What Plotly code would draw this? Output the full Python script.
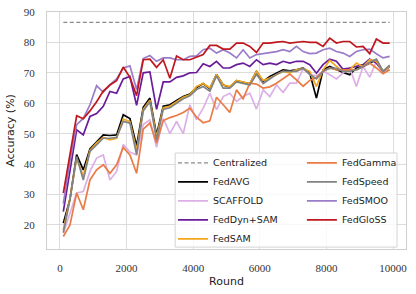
import plotly.graph_objects as go

rounds = [100, 300, 500, 700, 900, 1100, 1300, 1500, 1700, 1900,
          2100, 2300, 2500, 2700, 2900, 3100, 3300, 3500, 3700, 3900,
          4100, 4300, 4500, 4700, 4900, 5100, 5300, 5500, 5700, 5900,
          6100, 6300, 6500, 6700, 6900, 7100, 7300, 7500, 7700, 7900,
          8100, 8300, 8500, 8700, 8900, 9100, 9300, 9500, 9700, 9900]

centralized_acc = 86.6

fedavg = [20.6, 28.5, 43.1, 38.1, 45.0, 47.2, 49.6, 49.4, 49.6, 56.2,
          55.0, 46.0, 58.7, 61.7, 49.6, 59.0, 59.5, 60.9, 62.2, 63.0,
          65.2, 66.5, 64.8, 69.5, 66.0, 65.3, 67.4, 66.9, 66.4, 70.5,
          67.2, 68.8, 70.0, 71.0, 70.7, 71.0, 71.6, 69.9, 61.7, 71.0,
          72.1, 71.0, 70.1, 69.4, 71.6, 72.1, 73.2, 74.3, 70.5, 72.1]

scaffold = [17.3, 24.0, 30.5, 31.0, 37.6, 42.0, 43.0, 34.8, 37.6, 46.5,
            44.0, 43.0, 53.0, 54.5, 45.5, 55.0, 50.0, 54.0, 50.0, 59.5,
            54.6, 58.4, 63.3, 57.9, 62.2, 63.3, 60.6, 62.2, 63.3, 58.1,
            64.4, 62.2, 66.0, 63.6, 66.6, 66.6, 71.3, 69.4, 69.0, 70.5,
            69.4, 68.0, 70.0, 71.6, 65.5, 72.1, 68.6, 73.8, 70.5, 71.0]

feddyn_sam = [24.4, 38.0, 51.3, 49.6, 55.7, 56.6, 59.0, 63.9, 63.3, 68.0,
              68.8, 59.3, 70.0, 70.3, 58.0, 67.0, 67.0, 68.5, 69.0, 70.0,
              70.1, 73.0, 72.1, 73.8, 71.6, 71.6, 72.7, 73.2, 72.1, 74.3,
              72.7, 73.2, 72.7, 73.8, 73.2, 73.8, 73.8, 72.7, 69.9, 72.7,
              74.5, 73.8, 71.2, 71.6, 72.1, 72.7, 74.5, 73.2, 70.5, 72.1]

fedsam = [18.4, 28.8, 42.0, 36.0, 44.5, 47.0, 48.8, 48.0, 48.5, 54.8,
          54.0, 44.5, 58.0, 61.0, 48.8, 58.5, 59.0, 60.5, 62.0, 62.8,
          65.5, 66.5, 65.0, 69.5, 66.0, 65.5, 67.5, 67.0, 66.5, 70.5,
          67.5, 68.3, 69.5, 70.5, 70.0, 71.0, 71.5, 70.5, 65.5, 71.0,
          74.1, 72.1, 70.5, 71.0, 73.2, 72.0, 74.3, 73.8, 70.5, 72.1]

fedgamma = [16.2, 20.0, 30.5, 25.0, 34.8, 38.1, 39.8, 37.0, 39.8, 45.5,
            43.0, 37.0, 51.5, 53.5, 46.9, 54.3, 55.3, 56.0, 57.0, 58.4,
            55.4, 53.6, 54.2, 62.0, 59.5, 57.0, 64.4, 61.5, 66.6, 66.3,
            65.0, 65.4, 66.6, 68.0, 69.6, 67.7, 65.6, 67.5, 68.5, 70.5,
            71.6, 71.0, 71.0, 71.0, 71.0, 72.1, 73.2, 71.6, 69.7, 71.0]

fedspeed = [17.5, 28.3, 42.5, 34.8, 44.2, 46.5, 48.5, 48.5, 48.8, 54.0,
            53.5, 43.1, 57.5, 60.5, 48.0, 58.0, 58.5, 60.0, 61.5, 62.5,
            64.5, 65.5, 64.0, 69.0, 65.0, 65.0, 67.0, 66.5, 66.0, 69.5,
            66.5, 68.0, 69.5, 70.5, 70.5, 70.5, 71.5, 69.5, 68.0, 70.5,
            71.5, 71.5, 70.5, 70.5, 71.0, 72.0, 73.5, 74.5, 70.5, 72.5]

fedsmoo = [27.0, 41.0, 53.0, 55.0, 59.5, 65.8, 63.6, 66.1, 68.0, 71.6,
           72.3, 64.5, 74.7, 75.7, 73.8, 74.9, 74.9, 74.3, 74.3, 75.4,
           75.6, 77.6, 78.1, 76.5, 77.6, 76.5, 74.9, 77.6, 74.9, 76.0,
           76.3, 76.6, 77.0, 77.6, 77.0, 78.7, 77.0, 76.3, 76.5, 77.6,
           78.1, 77.0, 76.5, 75.4, 77.0, 77.6, 77.8, 76.3, 74.9, 75.4]

fedgloss = [30.5, 43.0, 55.9, 54.9, 57.5, 60.5, 64.0, 66.0, 67.4, 71.9,
            68.5, 62.5, 74.3, 74.5, 71.8, 74.3, 68.2, 75.5, 74.3, 74.3,
            75.2, 76.0, 79.0, 79.0, 77.8, 77.8, 79.8, 79.8, 78.7, 76.7,
            79.8, 79.8, 80.1, 80.3, 79.8, 80.0, 80.3, 80.0, 80.0, 78.7,
            81.4, 79.8, 80.3, 80.3, 78.5, 78.7, 76.3, 81.1, 79.8, 79.8]

x_ticks = [0, 2000, 4000, 6000, 8000, 10000]
y_ticks = [20, 30, 40, 50, 60, 70, 80, 90]

# name, values, colour, legend column, order within column
series = [
    ("FedAVG", fedavg, "#000000", "legend", 2),
    ("SCAFFOLD", scaffold, "#dcb0e6", "legend", 3),
    ("FedDyn+SAM", feddyn_sam, "#6a1b9a", "legend", 4),
    ("FedSAM", fedsam, "#f2a71b", "legend", 5),
    ("FedGamma", fedgamma, "#ea7b45", "legend2", 1),
    ("FedSpeed", fedspeed, "#828282", "legend2", 2),
    ("FedSMOO", fedsmoo, "#9b7cc8", "legend2", 3),
    ("FedGloSS", fedgloss, "#c0161e", "legend2", 4),
]

fig = go.Figure()
fig.add_trace(go.Scatter(
    x=[rounds[0], rounds[-1]], y=[centralized_acc, centralized_acc],
    mode="lines", name="Centralized", legend="legend", legendrank=1,
    line=dict(color="#8a8a8a", width=1.2, dash="4px,2.5px")))

for name, vals, color, leg, rank in series:
    fig.add_trace(go.Scatter(
        x=rounds, y=vals, mode="lines", name=name, legend=leg, legendrank=rank,
        line=dict(color=color, width=1.7)))

tick_font = dict(family="Liberation Serif, DejaVu Serif, serif", size=11, color="#333333")
title_font = dict(family="DejaVu Sans, sans-serif", size=11, color="#222222")
legend_font = dict(family="DejaVu Sans, sans-serif", size=9.5, color="#222222")

legend_common = dict(
    orientation="v", xanchor="left", yanchor="top", y=0.425,
    itemwidth=30, bgcolor="rgba(0,0,0,0)", borderwidth=0,
    font=legend_font, traceorder="normal",
)

fig.update_layout(
    width=416, height=294,
    margin=dict(l=47, r=10, t=12, b=45, autoexpand=False),
    paper_bgcolor="white", plot_bgcolor="white",
    showlegend=True,
    legend=dict(x=0.351, **legend_common),
    legend2=dict(x=0.710, **legend_common),
    shapes=[dict(
        type="rect", xref="paper", yref="paper",
        x0=0.357, x1=0.975, y0=0.008, y1=0.405,
        fillcolor="rgba(255,255,255,0.82)",
        line=dict(color="#d4d4d4", width=1), layer="above",
    )],
)

fig.update_xaxes(
    range=[-390, 10390], tickvals=x_ticks,
    ticktext=[str(t) for t in x_ticks],
    showgrid=True, gridcolor="#dcdcdc", gridwidth=1.1,
    showline=True, linecolor="#cfcfcf", linewidth=1.1, mirror=True,
    zeroline=False, ticks="outside", ticklen=9, tickcolor="rgba(0,0,0,0)",
    tickfont=tick_font,
    title=dict(text="Round", font=title_font, standoff=4),
)
fig.update_yaxes(
    range=[12.1, 90.0], tickvals=y_ticks,
    ticktext=[str(t) for t in y_ticks],
    showgrid=True, gridcolor="#dcdcdc", gridwidth=1.1,
    showline=True, linecolor="#cfcfcf", linewidth=1.1, mirror=True,
    zeroline=False, ticks="outside", ticklen=9, tickcolor="rgba(0,0,0,0)",
    tickfont=tick_font,
    title=dict(text="Accuracy (%)", font=title_font, standoff=6),
)

fig.write_html(
    "out.html",
    config={"displayModeBar": False},
    post_script="document.body.style.margin='0';document.body.style.padding='0';",
)
